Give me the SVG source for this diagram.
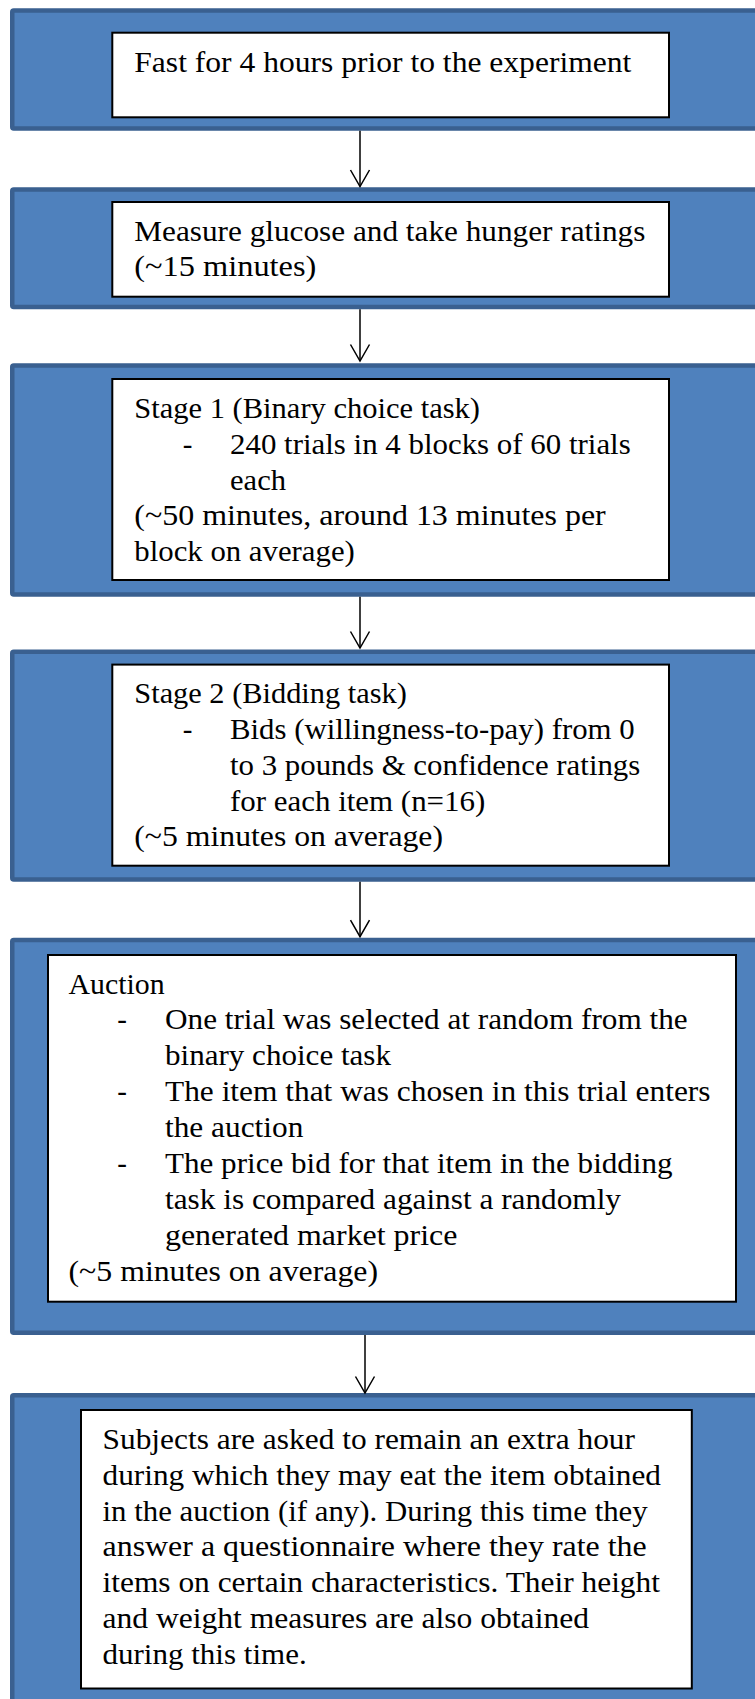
<svg xmlns="http://www.w3.org/2000/svg" width="755" height="1699" viewBox="0 0 755 1699">
<style>
.band{fill:#4F81BD;stroke:#3A6090;stroke-width:4.5}
.box{fill:#FFFFFF;stroke:#000000;stroke-width:2}
.t{font-family:"Liberation Serif","Times New Roman",serif;font-size:29px;fill:#000000}
.con{stroke:#000000;stroke-width:1.5;fill:none}
</style>
<defs>
<marker id="arr" markerUnits="userSpaceOnUse" markerWidth="22" markerHeight="24" viewBox="-19 -12 22 24" refX="0" refY="0" orient="auto" overflow="visible">
<path d="M-16.5,-9.5 L0,0 L-16.5,9.5" fill="none" stroke="#000000" stroke-width="1.5"/>
</marker>
</defs>
<rect width="755" height="1699" fill="#FFFFFF"/>

<g id="band1">
<rect class="band" x="12.25" y="10.5" width="800" height="118" rx="1.5"/>
</g>
<g id="band2">
<rect class="band" x="12.25" y="189.5" width="800" height="117.5" rx="1.5"/>
</g>
<g id="band3">
<rect class="band" x="12.25" y="365.5" width="800" height="229" rx="1.5"/>
</g>
<g id="band4">
<rect class="band" x="12.25" y="651.8" width="800" height="227.8" rx="1.5"/>
</g>
<g id="band5">
<rect class="band" x="12.25" y="939.9" width="800" height="392.8" rx="1.5"/>
</g>
<g id="band6">
<rect class="band" x="12.25" y="1395.3" width="800" height="400" rx="1.5"/>
</g>

<g id="connectors">
<line class="con" x1="360" y1="130.7" x2="360" y2="186.5" marker-end="url(#arr)"/>
<line class="con" x1="360" y1="309.3" x2="360" y2="361" marker-end="url(#arr)"/>
<line class="con" x1="360" y1="596.7" x2="360" y2="648" marker-end="url(#arr)"/>
<line class="con" x1="360" y1="881.8" x2="360" y2="936.7" marker-end="url(#arr)"/>
<line class="con" x1="365" y1="1335" x2="365" y2="1393" marker-end="url(#arr)"/>
</g>

<g id="node1">
<rect class="box" x="112.3" y="32.7" width="556.7" height="84.6"/>
<text class="t" x="134.3" y="71.7" textLength="497" lengthAdjust="spacingAndGlyphs">Fast for 4 hours prior to the experiment</text>
</g>

<g id="node2">
<rect class="box" x="112.3" y="202" width="556.7" height="94.7"/>
<text class="t" x="134.3" y="240.7" textLength="511" lengthAdjust="spacingAndGlyphs">Measure glucose and take hunger ratings</text>
<text class="t" x="134.3" y="276.4" textLength="182" lengthAdjust="spacingAndGlyphs">(~15 minutes)</text>
</g>

<g id="node3">
<rect class="box" x="112.3" y="379" width="556.7" height="201"/>
<text class="t" x="134.3" y="418.2" textLength="345.7" lengthAdjust="spacingAndGlyphs">Stage 1 (Binary choice task)</text>
<text class="t" x="182.7" y="453.9">-</text>
<text class="t" x="230" y="453.9" textLength="400.7" lengthAdjust="spacingAndGlyphs">240 trials in 4 blocks of 60 trials</text>
<text class="t" x="230" y="489.6" textLength="56" lengthAdjust="spacingAndGlyphs">each</text>
<text class="t" x="134.3" y="525.3" textLength="471.4" lengthAdjust="spacingAndGlyphs">(~50 minutes, around 13 minutes per</text>
<text class="t" x="134.3" y="561" textLength="220.5" lengthAdjust="spacingAndGlyphs">block on average)</text>
</g>

<g id="node4">
<rect class="box" x="112.3" y="664.6" width="556.7" height="201.1"/>
<text class="t" x="134.3" y="703.4" textLength="272.5" lengthAdjust="spacingAndGlyphs">Stage 2 (Bidding task)</text>
<text class="t" x="182.7" y="739.1">-</text>
<text class="t" x="230" y="739.1" textLength="404.6" lengthAdjust="spacingAndGlyphs">Bids (willingness-to-pay) from 0</text>
<text class="t" x="230" y="774.8" textLength="410.3" lengthAdjust="spacingAndGlyphs">to 3 pounds &amp; confidence ratings</text>
<text class="t" x="230" y="810.5" textLength="255.3" lengthAdjust="spacingAndGlyphs">for each item (n=16)</text>
<text class="t" x="134.3" y="846.2" textLength="308.7" lengthAdjust="spacingAndGlyphs">(~5 minutes on average)</text>
</g>

<g id="node5">
<rect class="box" x="48" y="955" width="688" height="346.7"/>
<text class="t" x="68.5" y="993.5" textLength="96.2" lengthAdjust="spacingAndGlyphs">Auction</text>
<text class="t" x="117.3" y="1029.4">-</text>
<text class="t" x="165" y="1029.4" textLength="522.6" lengthAdjust="spacingAndGlyphs">One trial was selected at random from the</text>
<text class="t" x="165" y="1065.3" textLength="226" lengthAdjust="spacingAndGlyphs">binary choice task</text>
<text class="t" x="117.3" y="1101.2">-</text>
<text class="t" x="165" y="1101.2" textLength="545.5" lengthAdjust="spacingAndGlyphs">The item that was chosen in this trial enters</text>
<text class="t" x="165" y="1137.1" textLength="138.3" lengthAdjust="spacingAndGlyphs">the auction</text>
<text class="t" x="117.3" y="1173">-</text>
<text class="t" x="165" y="1173" textLength="507.6" lengthAdjust="spacingAndGlyphs">The price bid for that item in the bidding</text>
<text class="t" x="165" y="1208.9" textLength="456" lengthAdjust="spacingAndGlyphs">task is compared against a randomly</text>
<text class="t" x="165" y="1244.8" textLength="292.4" lengthAdjust="spacingAndGlyphs">generated market price</text>
<text class="t" x="68.5" y="1280.7" textLength="309.5" lengthAdjust="spacingAndGlyphs">(~5 minutes on average)</text>
</g>

<g id="node6">
<rect class="box" x="81" y="1410" width="610.8" height="278.5"/>
<text class="t" x="102.5" y="1449.3" textLength="532.5" lengthAdjust="spacingAndGlyphs">Subjects are asked to remain an extra hour</text>
<text class="t" x="102.5" y="1485" textLength="558.5" lengthAdjust="spacingAndGlyphs">during which they may eat the item obtained</text>
<text class="t" x="102.5" y="1520.7" textLength="545.2" lengthAdjust="spacingAndGlyphs">in the auction (if any). During this time they</text>
<text class="t" x="102.5" y="1556.4" textLength="544.2" lengthAdjust="spacingAndGlyphs">answer a questionnaire where they rate the</text>
<text class="t" x="102.5" y="1592.1" textLength="557.5" lengthAdjust="spacingAndGlyphs">items on certain characteristics. Their height</text>
<text class="t" x="102.5" y="1627.8" textLength="486.5" lengthAdjust="spacingAndGlyphs">and weight measures are also obtained</text>
<text class="t" x="102.5" y="1663.5" textLength="204.2" lengthAdjust="spacingAndGlyphs">during this time.</text>
</g>
</svg>
